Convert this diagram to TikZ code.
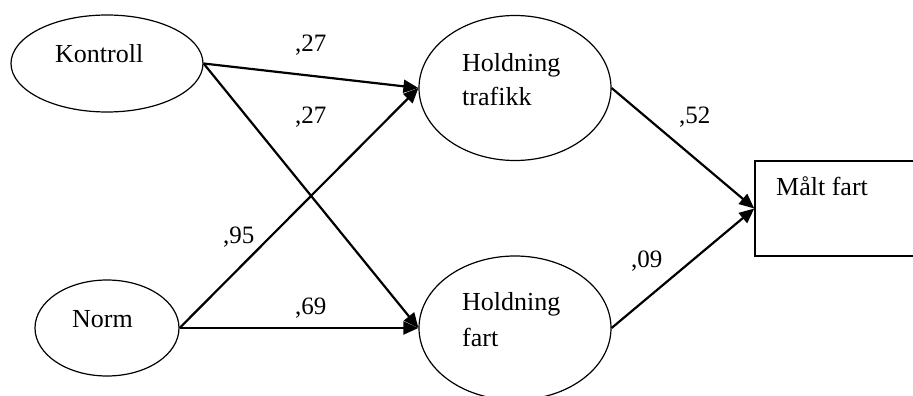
\documentclass[tikz,border=0pt]{standalone}
\usepackage{fontspec}
\setmainfont{Liberation Serif}
\usetikzlibrary{arrows.meta,shapes.geometric}
\begin{document}
\begin{tikzpicture}[x=1pt,y=-1pt,
  latent/.style={draw,ellipse,inner sep=0pt,line width=1.2pt},
  observed/.style={draw,rectangle,inner sep=0pt,line width=1.4pt},
  lbl/.style={anchor=base west,inner sep=0pt,font=\fontsize{26}{30}\selectfont},
  coef/.style={anchor=base west,inner sep=0pt,font=\fontsize{25}{30}\selectfont},
  path/.style={line width=2.2pt,-{Triangle[length=15pt,width=13pt]}}]
\useasboundingbox (0,0) rectangle (913,396);
\clip (0,0) rectangle (913,396);
% nodes
\node[latent,minimum width=192pt,minimum height=97pt] (kon) at (107,63.5) {};
\node[latent,minimum width=144pt,minimum height=96pt] (norm) at (107,328) {};
\node[latent,minimum width=192pt,minimum height=145pt] (ht) at (515,88) {};
\node[latent,minimum width=192pt,minimum height=144pt] (hf) at (515,328) {};
\node[observed,minimum width=170pt,minimum height=95pt] (malt) at (840,208.5) {};
% texts
\node[lbl] (tkon) at (55,63) {Kontroll};
\node[lbl] (tnorm) at (72,327) {Norm};
\node[lbl] (tht1) at (462,71) {Holdning};
\node[lbl] (tht2) at (462,106) {trafikk};
\node[lbl] (thf1) at (462,310) {Holdning};
\node[lbl] (thf2) at (462,346) {fart};
\node[lbl] (tmalt) at (776,195) {Målt fart};
% paths
\draw[path] (kon.east) -- (ht.west);
\draw[path] (kon.east) -- (hf.west);
\draw[path] (norm.east) -- (ht.west);
\draw[path] (norm.east) -- (hf.west);
\draw[path] (ht.east) -- (malt.west);
\draw[path] (hf.east) -- (malt.west);
% coefficients
\node[coef] (c1) at (295,52) {,27};
\node[coef] (c2) at (295,123) {,27};
\node[coef] (c3) at (223,243) {,95};
\node[coef] (c4) at (295,314) {,69};
\node[coef] (c5) at (679,123) {,52};
\node[coef] (c6) at (631,267) {,09};
\end{tikzpicture}
\end{document}
